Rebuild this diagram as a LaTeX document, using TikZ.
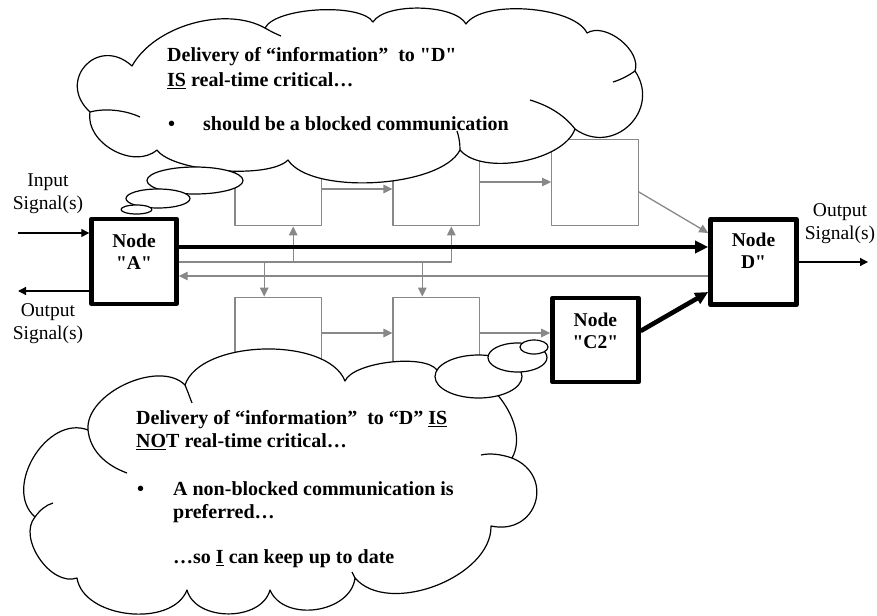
\documentclass[tikz,border=0pt]{standalone}
\usepackage{fontspec}
\setmainfont{Liberation Serif}[Ligatures=TeXOff]
\usetikzlibrary{arrows.meta}
\definecolor{gline}{RGB}{136,136,136}
\begin{document}
\begin{tikzpicture}[x=1pt,y=-1pt,line join=round,
  graybox/.style={draw=gline,line width=1.3pt,minimum width=86.5pt,minimum height=86.4pt,inner sep=0pt},
  boldbox/.style={draw=black,line width=4.6pt,inner sep=0pt},
  gl/.style={draw=gline,line width=1.3pt},
  garrow/.style={gl,-{Triangle[length=9pt,width=8.5pt]}},
  barrow/.style={draw=black,line width=1.3pt,-{Triangle[length=8pt,width=8pt]}},
  thickarrow/.style={draw=black,line width=4.6pt,-{Triangle[length=13pt,width=12pt]}},
  lbl/.style={inner sep=0pt,align=center,font=\fontsize{19.5}{22}\selectfont\bfseries},
  sig/.style={inner sep=0pt,align=center,font=\fontsize{19.5}{23}\selectfont},
  cloudline/.style={draw=black,fill=white,line width=1.2pt},
  crease/.style={draw=black,line width=1.2pt},
  cloudtxt/.style={inner sep=0pt,align=left,anchor=north west}]
\useasboundingbox (0,0) rectangle (877,615);

% auxiliary processing stages
\node[graybox] (t1) at (278.2,182.5) {};
\node[graybox] (t2) at (436.3,182.5) {};
\node[graybox] (t3) at (595,182.5) {};
\node[graybox] (b1) at (278.2,340.5) {};
\node[graybox] (b2) at (436.3,340.5) {};

% main nodes
\node[boldbox,minimum width=84.8pt,minimum height=85pt] (A) at (134,261.3) {};
\node[boldbox,minimum width=85.8pt,minimum height=84pt] (C) at (595.4,340) {};
\node[boldbox,minimum width=86pt,minimum height=85.5pt] (D) at (753.5,262) {};
\node[lbl] (Atext) at ([yshift=9.7pt]A.center) {Node\\"A"};
\node[lbl] (Ctext) at ([yshift=8.7pt]C.center) {Node\\"C2"};
\node[lbl] (Dtext) at ([yshift=11.4pt]D.center) {Node\\D"};

% bus levels
\coordinate (lvlfast) at (0,247);
\coordinate (lvlbus) at (0,262);
\coordinate (lvlback) at (0,276);

% gray bus and stage links
\draw[garrow] (A.east |- lvlbus) -| ([xshift=15pt]t2.south);
\draw[garrow] ([xshift=15pt]t1.south |- lvlbus) -- ([xshift=15pt]t1.south);
\draw[garrow] ([xshift=-14pt]b1.north |- lvlbus) -- ([xshift=-14pt]b1.north);
\draw[garrow] ([xshift=-14pt]b2.north |- lvlbus) -- ([xshift=-14pt]b2.north);
\draw[garrow] (D.west |- lvlback) -- (A.east |- lvlback);
\draw[garrow] (t1.east |- 0,189) -- (t2.west |- 0,189);
\draw[garrow] (t2.east |- 0,182) -- (t3.west |- 0,182);
\draw[garrow] (t3.east |- 0,192) -- (D.west |- 0,233);
\draw[garrow] (b1.east |- 0,333) -- (b2.west |- 0,333);
\draw[garrow] (b2.east |- 0,333) -- (C.west |- 0,333);

% critical paths
\draw[thickarrow] (A.east |- lvlfast) -- (D.west |- lvlfast);
\draw[thickarrow] (C.east |- 0,331) -- (D.west |- 0,292);

% external signals
\coordinate (inL) at (18,233);
\coordinate (outL) at (18,291);
\coordinate (outR) at (868,262);
\draw[barrow] (inL) -- (A.west |- inL);
\draw[barrow] (A.west |- outL) -- (outL);
\draw[barrow] (D.east |- outR) -- (outR);
\node[sig] (inlbl) at (48,194) {Input\\Signal(s)};
\node[sig] (outLlbl) at (48,323.5) {Output\\Signal(s)};
\node[sig] (outRlbl) at (840,223.2) {Output\\Signal(s)};

% upper thought cloud
\path[cloudline] (132,66)
  to[bend left=45,looseness=0.85] (265,28)
  to[bend left=60,looseness=0.55] (373,22)
  to[bend left=60,looseness=0.63] (466,24)
  to[bend left=60,looseness=0.63] (587,33)
  to[bend left=70,looseness=0.9] (635,71)
  to[bend left=80,looseness=1.45] (575,129)
  to[bend left=60,looseness=0.75] (460,150)
  to[bend left=60,looseness=0.63] (288,160)
  to[bend left=50,looseness=0.53] (157,150)
  to[bend left=70,looseness=1.03] (90,112)
  to[bend left=90,looseness=1.9] (132,66) -- cycle;
\draw[crease] (265,28) .. controls (270,31) and (276,34) .. (281,36);
\draw[crease] (635,71) .. controls (628,76) and (620,80) .. (613,82);
\draw[crease] (575,129) .. controls (565,116) and (550,106) .. (530,100);
\draw[crease] (460,150) .. controls (460,143) and (459,137) .. (457,131);
\draw[crease] (90,112) .. controls (105,108) and (125,110) .. (140,117);

% lower thought cloud
\path[cloudline] (185,385)
  to[bend left=70,looseness=0.77] (345,381)
  to[bend left=60,looseness=0.57] (437,370)
  to[bend left=70,looseness=0.94] (512,458)
  to[bend left=85,looseness=1.7] (491,526)
  to[bend left=70,looseness=0.9] (355,578)
  to[bend left=75,looseness=1.06] (270,590)
  to[bend left=75,looseness=1.02] (187,590)
  to[bend left=75,looseness=0.95] (77,578)
  to[bend left=75,looseness=0.95] (35,517)
  to[bend left=80,looseness=1.1] (88,430)
  to[bend left=70,looseness=0.88] (185,385) -- cycle;
\draw[crease] (185,385) .. controls (188,392) and (190,398) .. (192,403);
\draw[crease] (512,458) .. controls (500,454) and (490,453) .. (481,455);
\draw[crease] (355,578) .. controls (354,576) and (353,574) .. (352,572);
\draw[crease] (35,517) .. controls (40,510) and (46,505) .. (53,503);
\draw[crease] (88,430) .. controls (90,450) and (105,465) .. (127,473);

% thought bubbles
\draw[cloudline] (195,180.5) ellipse[x radius=48,y radius=13.5];
\draw[cloudline] (158,198.5) ellipse[x radius=32,y radius=9.5];
\draw[cloudline] (136.5,209.5) ellipse[x radius=15.5,y radius=4.5];
\draw[cloudline] (478.5,376.5) ellipse[x radius=43.5,y radius=21.5];
\draw[cloudline] (517.5,357.5) ellipse[x radius=29.5,y radius=14.5];
\draw[cloudline] (534,347) ellipse[x radius=14,y radius=7];

% cloud texts
\node[cloudtxt,font=\fontsize{20}{24.5}\selectfont\bfseries] (toptext) at (167,47.5)
  {Delivery of “information”\ \ to "D"\\
   \underline{IS} real-time critical…\\[19.5pt]
   \makebox[36pt][l]{\hspace{1pt}•}should be a blocked communication};
\node[cloudtxt,font=\fontsize{20}{23}\selectfont\bfseries] (bottext) at (136,410.4)
  {Delivery of “information”\ \ to “D” \underline{IS}\\
   \underline{NO}T real-time critical…\\[25pt]
   \makebox[37pt][l]{\hspace{1pt}•}A non-blocked communication is\\
   \hspace*{37pt}preferred…\\[22pt]
   \hspace*{37pt}…so \underline{I} can keep up to date};
\end{tikzpicture}
\end{document}
